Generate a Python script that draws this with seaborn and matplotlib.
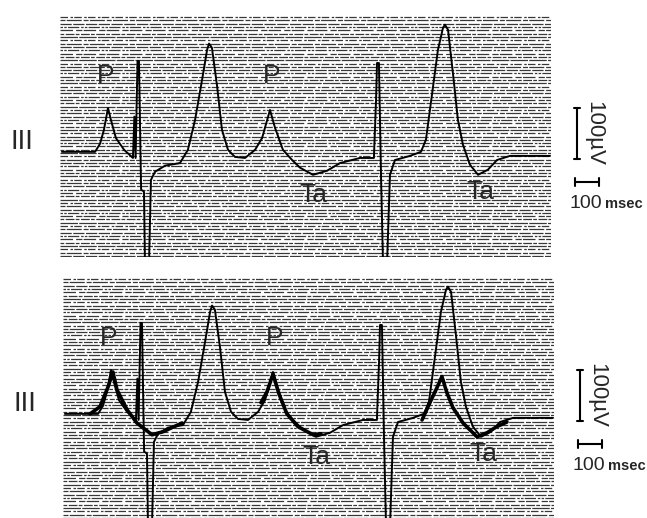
import numpy as np
import pandas as pd
import seaborn as sns
import matplotlib.pyplot as plt

# lead III, time in msec, amplitude in microvolts (baseline = 0)
time_ms = [8, 146, 167, 183, 200, 212, 233, 267, 304, 310, 315, 323, 329, 338,
           350, 354, 371, 379, 396, 438, 500, 533, 563, 592, 613, 621, 633,
           654, 675, 700, 729, 771, 813, 842, 875, 896, 929, 967, 1000, 1054,
           1113, 1167, 1250, 1308, 1317, 1321, 1329, 1338, 1346, 1363, 1375,
           1396, 1458, 1504, 1525, 1550, 1575, 1596, 1604, 1617, 1638, 1658,
           1679, 1708, 1742, 1783, 1821, 1875, 2042]
volt_uv = [0, 0, 16, 43, 86, 63, 27, 4, -12, 69, -12, 178, 178, -74,
           -78, -216, -216, -55, -39, -27, -22, 4, 63, 141, 200, 212, 204,
           131, 43, 4, -10, -12, 4, 27, 82, 47, 4, -16, -31, -45,
           -37, -22, -12, -12, 102, 174, 174, -55, -216, -216, -45,
           -16, -8, 0, 24, 112, 200, 243, 249, 239, 151, 63,
           14, -25, -45, -35, -16, -8, -8]

# P waves with their atrial repolarisation (Ta), traced in the lower panel
ta_waves = {
    "P1": ([113, 154, 188, 208, 225, 267, 308, 371, 417, 496],
           [0, 14, 53, 82, 47, 8, -18, -41, -35, -18]),
    "P2": ([825, 850, 875, 900, 933, 979, 1042, 1075],
           [22, 43, 78, 39, 0, -25, -41, -39]),
    "P3": ([1496, 1529, 1558, 1579, 1600, 1625, 1667, 1725, 1767, 1808, 1850],
           [-12, 22, 51, 73, 41, 12, -18, -45, -37, -25, -16]),
}

labels = ["P", "P", "Ta", "Ta"]
label_ms = [192, 883, 1054, 1750]
label_uv = [149, 149, -84, -78]

SCALE_UV = 100
SCALE_MS = 100

XLIM = (0, 2046)
YLIM = (-206, 270)


def hatch_background(ax):
    patterns = [(9, 1.2), (4, 1, 12, 1.5), (6, 2, 2, 1), (14, 1), (3, 1.2, 7, 1),
                (10, 2.5, 5, 1), (2, 1, 2, 1, 9, 1.5)]
    for k, y in enumerate(np.arange(YLIM[0] + 2, YLIM[1], 6.5)):
        ax.axhline(y, color="0.22", lw=0.9, dashes=patterns[k % len(patterns)],
                   zorder=0)


def draw_panel(ax, overlay):
    hatch_background(ax)
    df = pd.DataFrame({"ms": time_ms, "uV": volt_uv})
    sns.lineplot(data=df, x="ms", y="uV", sort=False, estimator=None,
                 color="black", lw=1.4, ax=ax, zorder=3)
    if overlay:
        for name, (t, v) in ta_waves.items():
            sns.lineplot(x=t, y=v, sort=False, estimator=None, color="black",
                         lw=2.6, ax=ax, zorder=4)
    for s, t, v in zip(labels, label_ms, label_uv):
        ax.text(t, v, s, fontsize=19, family="Liberation Sans", ha="center",
                va="center", zorder=5)
    ax.text(-158, 20, "III", fontsize=20, family="Liberation Sans",
            ha="center", va="center", clip_on=False)

    # calibration bars
    xb = 2154
    ax.plot([xb, xb], [86 - SCALE_UV, 86], color="black", lw=1.5, clip_on=False)
    for yy in (86 - SCALE_UV, 86):
        ax.plot([xb - 12, xb + 12], [yy, yy], color="black", lw=1.5,
                clip_on=False)
    ax.text(xb + 72, 36, "100µV", rotation=270, fontsize=16,
            family="Liberation Sans", ha="center", va="center", clip_on=False)
    yh = -59
    ax.plot([2146, 2146 + SCALE_MS], [yh, yh], color="black", lw=1.5,
            clip_on=False)
    for xx in (2146, 2146 + SCALE_MS):
        ax.plot([xx, xx], [yh - 7, yh + 7], color="black", lw=1.5,
                clip_on=False)
    ax.text(2125, -110, "100", fontsize=14, family="Liberation Sans",
            ha="left", va="baseline", clip_on=False)
    ax.text(2272, -110, "msec", fontsize=10.5, family="Liberation Sans",
            weight="bold", ha="left", va="baseline", clip_on=False)

    ax.set_xlim(*XLIM)
    ax.set_ylim(*YLIM)
    ax.set_axis_off()


if __name__ == "__main__":
    sns.set_style("white")
    W, H = 647, 518
    fig = plt.figure(figsize=(W / 100, H / 100), dpi=100)
    ax_top = fig.add_axes([60 / W, (H - 257) / H, 491 / W, 243 / H])
    ax_bot = fig.add_axes([63 / W, (H - 519) / H, 491 / W, 243 / H])
    draw_panel(ax_top, overlay=False)
    draw_panel(ax_bot, overlay=True)
    fig.savefig("out.png", dpi=100)
    plt.close(fig)
